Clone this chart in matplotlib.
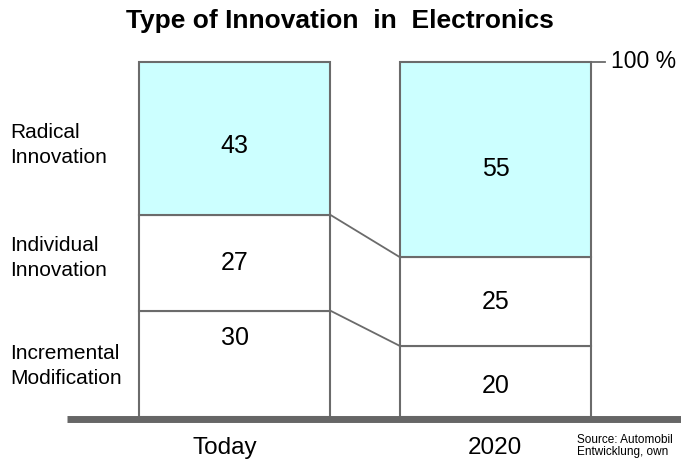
import matplotlib.pyplot as plt

plt.rcParams['font.family'] = ['Liberation Sans', 'DejaVu Sans']

# data
periods = ["Today", "2020"]
segments = ["Incremental\nModification", "Individual\nInnovation", "Radical\nInnovation"]
today = [30, 27, 43]
year2020 = [20, 25, 55]
values = [today, year2020]

# layout (x in pixels, y in percent)
centers = [234.5, 495.5]
width = 191
px_per_pct = 3.55
fill_colors = ["white", "white", "#ccffff"]
edge = "#6b6b6b"

fig = plt.figure(figsize=(6.81, 4.63), dpi=100)
ax = fig.add_axes([0, 0, 1, 1])
ax.set_xlim(0, 681)
ax.set_ylim(-(463 - 417) / px_per_pct, 100 + 62 / px_per_pct)
ax.axis('off')

# stacked bars
tops = []
for xc, vals in zip(centers, values):
    bottom = 0
    bounds = []
    for v, c in zip(vals, fill_colors):
        ax.bar(xc, v, width=width, bottom=bottom, color=c, edgecolor=edge, linewidth=1.5)
        bottom += v
        bounds.append(bottom)
    tops.append(bounds)

# connector lines between bars
left_edge = centers[1] - width / 2
right_edge = centers[0] + width / 2
for i in range(2):
    ax.plot([right_edge, left_edge], [tops[0][i], tops[1][i]], color=edge, lw=1.3)

# value labels
label_frac = [[0.74, 0.5, 0.45], [0.43, 0.5, 0.45]]
for xc, vals, fr in zip(centers, values, label_frac):
    bottom = 0
    for v, f in zip(vals, fr):
        ax.text(xc, bottom + v * f, str(v), ha='center', va='center', fontsize=18)
        bottom += v

# baseline and 100% mark
ax.plot([67, 681], [-0.5, -0.5], color="#666666", lw=5, solid_capstyle='butt')
ax.plot([centers[1] + width / 2, 605], [100, 100], color=edge, lw=1.3)
ax.text(611, 100, "100 %", ha='left', va='center', fontsize=16.5)

# segment names on the left
seg_y = [14.4, 44.8, 76.6]
for name, yy in zip(segments, seg_y):
    ax.text(10, yy, name, ha='left', va='center', fontsize=15, linespacing=1.35)

# period labels
period_x = [225, 494.5]
for xc, p in zip(period_x, periods):
    ax.text(xc, -8.7, p, ha='center', va='center', fontsize=17.5)

ax.text(577, -8.2, "Source: Automobil\nEntwicklung, own", ha='left', va='center',
        fontsize=8.5, linespacing=1.05)

fig.text(340 / 681, 1 - 28 / 463, "Type of Innovation  in  Electronics", ha='center', va='baseline',
         fontsize=19, fontweight='bold')

fig.savefig("out.png", dpi=100)
